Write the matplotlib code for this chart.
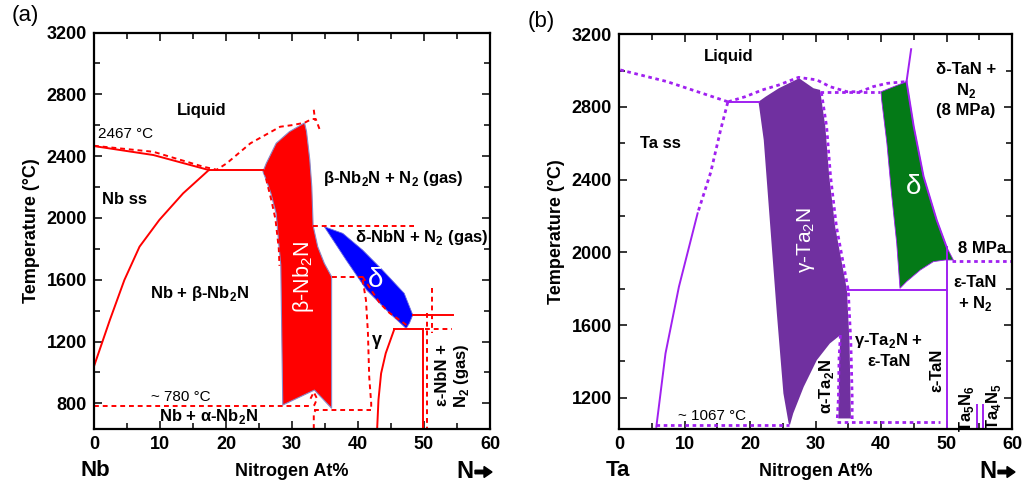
#!/usr/bin/env python3
"""Nb-N and Ta-N phase diagrams, two panels side by side."""

import matplotlib
matplotlib.use("Agg")
import matplotlib.pyplot as plt
from matplotlib.ticker import MultipleLocator

plt.rcParams["font.family"] = ["Liberation Sans", "DejaVu Sans"]

RED = "#ff0000"
BLUE = "#0000ff"
PURPLE = "#a020f0"
PURPLE_FILL = "#7030a0"
GREEN = "#047a17"

# ---- panel (a): Nb-N --------------------------------------------------
A_LIQ_X = [0, 9.0, 17.4]
A_LIQ_T = [2465, 2407, 2310]
A_LIQ_DASH_X = [0, 9.0, 16.6, 18.6, 20.1, 23.7, 28.2, 30.1, 31.9, 33.0, 33.6, 34.3]
A_LIQ_DASH_T = [2467, 2428, 2331, 2312, 2353, 2483, 2590, 2601, 2616, 2640, 2640, 2560]
A_PEAK_DASH_X = [33.3, 33.5]
A_PEAK_DASH_T = [2700, 2630]
A_SOL_X = [0, 2.4, 4.6, 6.9, 9.9, 13.5, 17.4]
A_SOL_T = [1040, 1339, 1598, 1814, 1987, 2159, 2310]
A_EUT_X = [17.4, 25.6]
A_EUT_T = [2310, 2310]
A_BETA_X = [25.6, 26.1, 27.6, 29.6, 31.9, 32.2, 32.7, 33.0, 33.2, 33.9, 34.9, 36.0,
            36.0, 33.4, 28.6, 28.3, 28.0, 27.6, 26.8, 26.1]
A_BETA_T = [2300, 2353, 2483, 2558, 2615, 2560, 2375, 2202, 1950, 1814, 1706, 1620,
            768, 886, 789, 1695, 1830, 2028, 2159, 2245]
A_BETA_DASH_X = [25.8, 26.2, 26.9, 27.5, 28.0, 28.1]
A_BETA_DASH_T = [2310, 2230, 2110, 1990, 1800, 1690]
A_DELTA_X = [34.9, 37.7, 40.7, 43.7, 47.0, 48.3, 47.8, 47.3, 44.8, 41.3, 38.2]
A_DELTA_T = [1943, 1900, 1792, 1663, 1512, 1372, 1320, 1285, 1383, 1534, 1728]
A_H1950_X = [33.2, 48.5]
A_H1950_T = [1950, 1950]
A_H1620_X = [36.0, 40.7]
A_H1620_T = [1620, 1620]
A_DCURVE_X = [40.7, 42.0, 43.3, 44.8, 46.3, 47.8]
A_DCURVE_T = [1620, 1533, 1449, 1384, 1339, 1293]
A_GAMMA_DASH_X = [40.7, 41.2, 41.5, 41.7, 42.0, 42.0]
A_GAMMA_DASH_T = [1600, 1470, 1260, 970, 800, 757]
A_H1372_X = [48.3, 54.4]
A_H1372_T = [1372, 1372]
A_H1280_X = [45.5, 49.8]
A_H1280_T = [1280, 1280]
A_H1280_DASH_X = [50.1, 54.3]
A_H1280_DASH_T = [1279, 1279]
A_EPS_X = [45.5, 44.2, 43.5, 43.1, 42.9]
A_EPS_T = [1280, 1124, 994, 822, 634]
A_V50_X = [49.8, 49.8]
A_V50_T = [1280, 634]
A_V50_DASH_X = [50.5, 50.5]
A_V50_DASH_T = [1384, 634]
A_V51_DASH_X = [51.2, 51.2]
A_V51_DASH_T = [1544, 1253]
A_H780_X = [0, 32.9]
A_H780_T = [783, 783]
A_H757_X = [33.4, 42.0]
A_H757_T = [757, 757]
A_V33_DASH_X = [33.3, 33.3, 33.6]
A_V33_DASH_T = [634, 740, 757]
A_LOOP_DASH_X = [32.8, 33.3, 33.8, 33.4, 33.0]
A_LOOP_DASH_T = [830, 872, 830, 790, 770]

# ---- panel (b): Ta-N --------------------------------------------------
B_LIQ_X = [0.2, 7.3, 16.6]
B_LIQ_T = [3004, 2940, 2829]
B_EUT_X = [16.7, 21.3]
B_EUT_T = [2829, 2829]
B_UP_DASH_X = [16.7, 19.3, 21.9, 24.4, 27.4, 30.2, 32.2, 34.8, 36.8, 38.8, 40.9, 43.9]
B_UP_DASH_T = [2829, 2857, 2894, 2921, 2963, 2949, 2912, 2884, 2884, 2912, 2930, 2940]
B_LOW_DASH_X = [30.7, 39.9]
B_LOW_DASH_T = [2884, 2884]
B_SOLV_DASH_X = [16.6, 15.5, 14.0, 12.0]
B_SOLV_DASH_T = [2825, 2672, 2440, 2215]
B_SOLV_X = [12.0, 9.15, 7.1, 5.7]
B_SOLV_T = [2215, 1811, 1444, 1040]
B_GAMMA_X = [21.3, 22.4, 24.4, 27.5, 29.7, 30.7, 31.5, 32.1, 33.0, 34.8, 35.2, 35.4,
             33.5, 33.6, 33.8, 32.2, 30.2, 28.2, 26.6, 26.1, 25.9, 25.1, 24.1, 23.1, 22.1]
B_GAMMA_T = [2829, 2857, 2903, 2958, 2903, 2894, 2692, 2417, 2141, 1793, 1500, 1086,
             1086, 1380, 1545, 1499, 1407, 1260, 1114, 1050, 1059, 1224, 1664, 2141, 2618]
B_GAMMA_DASH_X = [30.9, 31.7, 32.3, 33.2, 35.0, 35.4, 35.6, 35.6]
B_GAMMA_DASH_T = [2880, 2692, 2417, 2141, 1793, 1500, 1200, 1068]
B_ALPHA_DASH_X = [33.8, 33.6, 33.5, 33.3]
B_ALPHA_DASH_T = [1545, 1420, 1200, 1068]
B_DELTA_X = [40.0, 43.9, 45.0, 46.5, 48.5, 50.0, 51.05, 49.8, 48.0, 46.0, 43.9, 42.9,
             42.4, 41.6, 40.9, 40.1]
B_DELTA_T = [2884, 2940, 2692, 2417, 2178, 2031, 1958, 1958, 1949, 1903, 1839, 1802,
             2050, 2325, 2600, 2839]
B_DELTA_RIGHT_X = [43.9, 45.0, 46.5, 48.5, 50.0]
B_DELTA_RIGHT_T = [2940, 2692, 2417, 2178, 2031]
B_TOP_X = [43.9, 44.6]
B_TOP_T = [2940, 3118]
B_EPS_X = [50.0, 50.0]
B_EPS_T = [2031, 1028]
B_H1800_X = [34.8, 50.0]
B_H1800_T = [1795, 1795]
B_8MPA_X = [50.9, 60.0]
B_8MPA_T = [1954, 1954]
B_H1067_X = [33.3, 49.0]
B_H1067_T = [1068, 1068]
B_H1050_X = [5.7, 25.9]
B_H1050_T = [1050, 1050]
B_TA5N6_X = [54.6, 54.6]
B_TA4N5_X = [55.6, 55.6]
B_TAXN_T = [1160, 1028]

LABEL = dict(fontsize=12, fontweight="bold", ha="center", va="center")
SUB2 = r"$_\mathregular{2}$"


def style_axes(ax, ylim, yticks):
    ax.set_xlim(0, 60)
    ax.set_ylim(*ylim)
    ax.set_yticks(yticks)
    ax.xaxis.set_major_locator(MultipleLocator(10))
    ax.xaxis.set_minor_locator(MultipleLocator(5))
    ax.yaxis.set_minor_locator(MultipleLocator(200))
    ax.tick_params(which="both", direction="in", top=True, right=True, width=1.1)
    ax.tick_params(which="major", length=6, labelsize=13, pad=5)
    ax.tick_params(which="minor", length=4)
    for lab in ax.get_xticklabels() + ax.get_yticklabels():
        lab.set_fontweight("bold")
    for s in ax.spines.values():
        s.set_linewidth(1.6)
    ax.set_ylabel("Temperature (°C)", fontsize=13, fontweight="bold", labelpad=5)


def panel_a(ax):
    solid = dict(color=RED, lw=1.4)
    dash = dict(color=RED, lw=1.4, ls=(0, (2.5, 2)))
    ax.fill(A_BETA_X, A_BETA_T, color=RED, ec="#8a8ac8", lw=0.8, zorder=2)
    ax.fill(A_DELTA_X, A_DELTA_T, color=BLUE, ec="#6a6ae0", lw=0.6, zorder=2)
    ax.plot(A_LIQ_X, A_LIQ_T, **solid)
    ax.plot(A_LIQ_DASH_X, A_LIQ_DASH_T, **dash)
    ax.plot(A_PEAK_DASH_X, A_PEAK_DASH_T, **dash)
    ax.plot(A_SOL_X, A_SOL_T, **solid)
    ax.plot(A_EUT_X, A_EUT_T, **solid)
    ax.plot(A_BETA_DASH_X, A_BETA_DASH_T, **dash)
    for xs, ts in [(A_H1950_X, A_H1950_T), (A_H1620_X, A_H1620_T), (A_DCURVE_X, A_DCURVE_T),
                   (A_GAMMA_DASH_X, A_GAMMA_DASH_T), (A_H1280_DASH_X, A_H1280_DASH_T),
                   (A_V50_DASH_X, A_V50_DASH_T), (A_V51_DASH_X, A_V51_DASH_T),
                   (A_H780_X, A_H780_T), (A_H757_X, A_H757_T), (A_V33_DASH_X, A_V33_DASH_T),
                   (A_LOOP_DASH_X, A_LOOP_DASH_T)]:
        ax.plot(xs, ts, **dash)
    for xs, ts in [(A_H1372_X, A_H1372_T), (A_H1280_X, A_H1280_T), (A_EPS_X, A_EPS_T),
                   (A_V50_X, A_V50_T)]:
        ax.plot(xs, ts, **solid)

    ax.text(16.3, 2692, "Liquid", **LABEL)
    ax.text(0.6, 2540, "2467 °C", fontsize=11, ha="left", va="center")
    ax.text(4.6, 2120, "Nb ss", **LABEL)
    ax.text(16.0, 1512, "Nb + β-Nb" + SUB2 + "N", **LABEL)
    ax.text(45.3, 2252, "β-Nb" + SUB2 + "N + N" + SUB2 + " (gas)", **LABEL)
    ax.text(49.6, 1874, "δ-NbN + N" + SUB2 + " (gas)", **LABEL)
    ax.text(31.7, 1620, "β-Nb" + SUB2 + "N", color="white", fontsize=15.5,
            rotation=90, ha="center", va="center")
    ax.text(42.6, 1598, "δ", color="white", fontsize=20, ha="center", va="center")
    ax.text(42.8, 1205, "γ", fontsize=13, fontweight="bold", ha="center", va="center")
    ax.text(54.4, 980, "ε-NbN +\nN" + SUB2 + " (gas)", rotation=90,
            linespacing=1.1, **LABEL)
    ax.text(13.2, 843, "~ 780 °C", fontsize=11, ha="center", va="center")
    ax.text(17.3, 714, "Nb + α-Nb" + SUB2 + "N", **LABEL)


def panel_b(ax):
    solid = dict(color=PURPLE, lw=1.4)
    dash = dict(color=PURPLE, lw=2.0, ls=(0, (1.3, 1.3)))
    ax.fill(B_GAMMA_X, B_GAMMA_T, color=PURPLE_FILL, lw=0, zorder=2)
    ax.fill(B_DELTA_X, B_DELTA_T, color=GREEN, ec=PURPLE, lw=0.6, zorder=2)
    ax.plot(B_LIQ_X, B_LIQ_T, **dash)
    ax.plot(B_EUT_X, B_EUT_T, **solid)
    ax.plot(B_UP_DASH_X, B_UP_DASH_T, **dash)
    ax.plot(B_LOW_DASH_X, B_LOW_DASH_T, **dash)
    ax.plot(B_SOLV_DASH_X, B_SOLV_DASH_T, **dash)
    ax.plot(B_SOLV_X, B_SOLV_T, **solid)
    ax.plot(B_GAMMA_DASH_X, B_GAMMA_DASH_T, zorder=3, **dash)
    ax.plot(B_ALPHA_DASH_X, B_ALPHA_DASH_T, zorder=3, **dash)
    ax.plot(B_DELTA_RIGHT_X, B_DELTA_RIGHT_T, zorder=3, **solid)
    ax.plot(B_TOP_X, B_TOP_T, **solid)
    ax.plot(B_EPS_X, B_EPS_T, **solid)
    ax.plot(B_H1800_X, B_H1800_T, **solid)
    ax.plot(B_8MPA_X, B_8MPA_T, **dash)
    ax.plot(B_H1067_X, B_H1067_T, **dash)
    ax.plot(B_H1050_X, B_H1050_T, **dash)
    ax.plot(B_TA5N6_X, B_TAXN_T, **solid)
    ax.plot(B_TA4N5_X, B_TAXN_T, **solid)

    ax.text(16.8, 3077, "Liquid", **LABEL)
    ax.text(6.4, 2600, "Ta ss", **LABEL)
    ax.text(28.5, 2068, "γ-Ta" + SUB2 + "N", color="white", fontsize=15,
            rotation=90, ha="center", va="center")
    ax.text(45.0, 2361, "δ", color="white", fontsize=20, ha="center", va="center")
    ax.text(53.0, 2893, "δ-TaN +\nN" + SUB2 + "\n(8 MPa)", linespacing=1.25, **LABEL)
    ax.text(55.5, 2022, "8 MPa", **LABEL)
    ax.text(54.4, 1770, "ε-TaN\n+ N" + SUB2, linespacing=1.3, **LABEL)
    ax.text(41.2, 1462, "γ-Ta" + SUB2 + "N +\nε-TaN", linespacing=1.3, **LABEL)
    ax.text(48.6, 1352, "ε-TaN", rotation=90, **LABEL)
    ax.text(31.7, 1265, "α-Ta" + SUB2 + "N", rotation=90, **LABEL)
    ax.text(53.1, 1141, r"Ta$_\mathregular{5}$N$_\mathregular{6}$", rotation=90, **LABEL)
    ax.text(57.1, 1150, r"Ta$_\mathregular{4}$N$_\mathregular{5}$", rotation=90, **LABEL)
    ax.text(14.2, 1100, "~ 1067 °C", fontsize=11, ha="center", va="center")


def main():
    W, H = 1025, 483
    fig = plt.figure(figsize=(W / 100, H / 100), dpi=100)
    ax_a = fig.add_axes([94 / W, 1 - 429 / H, 396 / W, (429 - 32.5) / H])
    ax_b = fig.add_axes([619 / W, 1 - 429 / H, 393 / W, (429 - 34.3) / H])

    panel_a(ax_a)
    style_axes(ax_a, (634, 3200), range(800, 3201, 400))
    panel_b(ax_b)
    style_axes(ax_b, (1028, 3200), range(1200, 3201, 400))

    def ftext(x, y, s, **kw):
        fig.text(x / W, 1 - y / H, s, ha="center", va="center", **kw)

    ftext(25, 16, "(a)", fontsize=16)
    ftext(541, 22, "(b)", fontsize=16)
    for x0, x1, xn, el in [(95, 291.7, 465, "Nb"), (618, 815.3, 988, "Ta")]:
        ftext(x0, 471, el, fontsize=16, fontweight="bold")
        ftext(x1, 472, "Nitrogen At%", fontsize=13, fontweight="bold")
        ftext(xn, 471, "N", fontsize=17, fontweight="bold")
        fig.patches.append(matplotlib.patches.FancyArrow(
            (xn + 10) / W, 1 - 472 / H, 17 / W, 0, width=3.5 / H,
            head_width=11 / H, head_length=8 / W, length_includes_head=True,
            color="black", transform=fig.transFigure, figure=fig))

    fig.savefig("out.png", dpi=100)


if __name__ == "__main__":
    main()
